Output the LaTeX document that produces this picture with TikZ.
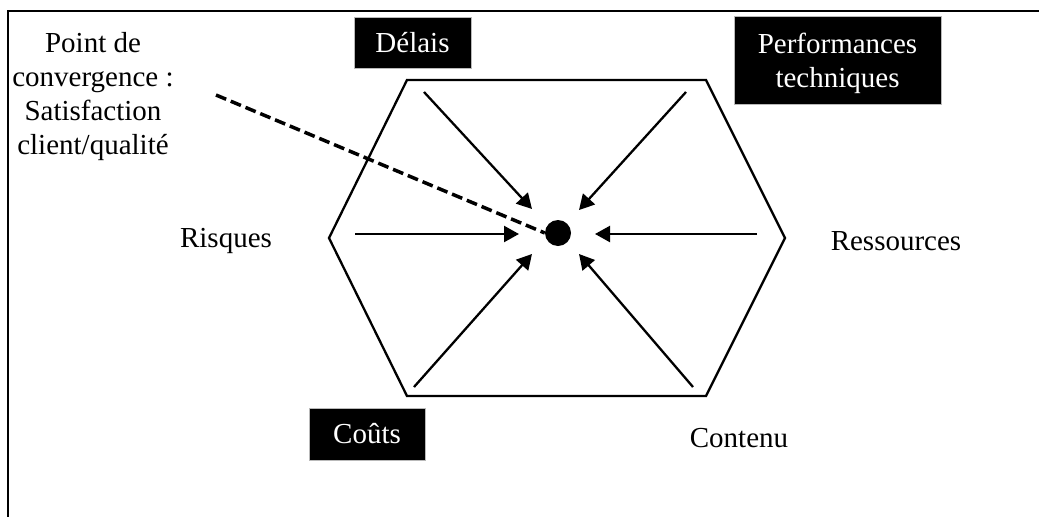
\documentclass[tikz,border=0pt]{standalone}
\usepackage{fontspec}
\setmainfont{Liberation Serif}
\usetikzlibrary{arrows.meta}
\tikzset{
  lbl/.style={font=\fontsize{29}{34}\selectfont, inner sep=0pt, align=center},
  blackbox/.style={lbl, fill=black, draw=gray!55, line width=1pt, text=white},
  push/.style={line width=2.3pt, -{Triangle[length=15pt,width=16pt]}},
  hexline/.style={line width=2.3pt, line join=miter},
}
\begin{document}
\begin{tikzpicture}[x=1pt,y=-1pt]
\useasboundingbox (0,0) rectangle (1039,517);
% open frame: top and left edges only
\draw[line width=2.8pt] (1039,11) -- (8,11) -- (8,517);

% hexagon
\coordinate (h1) at (407,80);
\coordinate (h2) at (706,80);
\coordinate (h3) at (785,238);
\coordinate (h4) at (706,396);
\coordinate (h5) at (407,396);
\coordinate (h6) at (329,238);
\draw[hexline] (h1) -- (h2) -- (h3) -- (h4) -- (h5) -- (h6) -- cycle;

% convergence point
\node[circle, fill=black, inner sep=0pt, minimum size=26pt] (c) at (558,233) {};

% arrow tails and tips
\coordinate (sL) at (355,234);  \coordinate (tL) at (519,234);
\coordinate (sR) at (757,234);  \coordinate (tR) at (595,234);
\coordinate (sTL) at (424,92);  \coordinate (tTL) at (532,209);
\coordinate (sTR) at (686,92);  \coordinate (tTR) at (579,210);
\coordinate (sBL) at (414,387); \coordinate (tBL) at (532,254);
\coordinate (sBR) at (693,387); \coordinate (tBR) at (579,254);
\foreach \s/\t in {sL/tL, sR/tR, sTL/tTL, sTR/tTR, sBL/tBL, sBR/tBR}
  \draw[push] (\s) -- (\t);

% dashed pointer from the caption
\coordinate (dq) at (216,95);
\draw[line width=3.5pt, dash pattern=on 11pt off 5pt] (dq) -- (c.west);

% labels
\node[lbl] (conv) at (93,97) {Point de\\convergence :\\Satisfaction\\client/qualité};
\node[blackbox, minimum width=117pt, minimum height=51pt] (delais) at (412.5,42.5) {Délais};
\node[blackbox, minimum width=207pt, minimum height=88pt] (perf) at (837.5,60) {};
\node[lbl, text=white] (perftxt) at (837.5,63) {Performances\\techniques};
\node[blackbox, minimum width=116pt, minimum height=52pt] (couts) at (367,434) {Coûts};
\node[lbl] (risques) at (226,241) {Risques};
\node[lbl] (ress) at (896,241) {Ressources};
\node[lbl] (contenu) at (739,438) {Contenu};
\end{tikzpicture}
\end{document}
